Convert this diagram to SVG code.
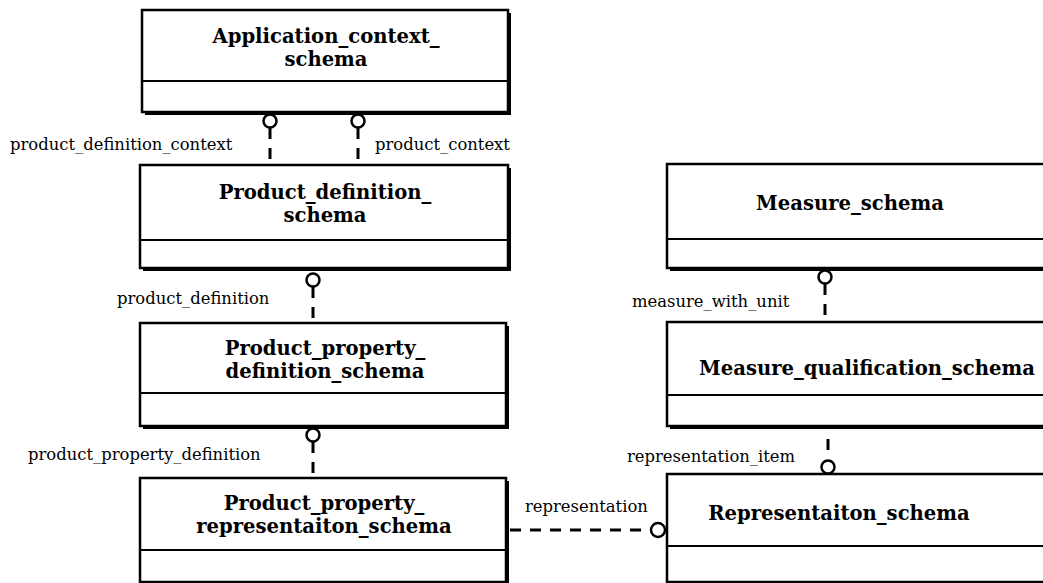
<svg xmlns="http://www.w3.org/2000/svg" width="1043" height="583" viewBox="0 0 1043 583">
  <style>
    .box { fill: #ffffff; stroke: #000000; stroke-width: 2.5; }
    .shadow { fill: #000000; }
    .div { stroke: #000000; stroke-width: 2; }
    .title { font-family: "DejaVu Serif", "Liberation Serif", serif; font-weight: bold; font-size: 19.6px; fill: #000000; text-anchor: middle; }
    .label { font-family: "DejaVu Serif", "Liberation Serif", serif; font-size: 16.4px; fill: #000000; }
    .link { stroke: #000000; stroke-width: 3; fill: none; stroke-dasharray: 11 9; }
    .end { fill: #ffffff; stroke: #000000; stroke-width: 2.5; }
  </style>
  <rect width="1043" height="583" fill="#ffffff"/>

  <!-- schema boxes -->
  <g id="application_context_schema">
    <rect class="shadow" x="145" y="13" width="366" height="102"/>
    <rect class="box" x="142" y="10" width="366" height="102"/>
    <line class="div" x1="142" y1="81" x2="508" y2="81"/>
    <text class="title" x="326" y="43">Application_context_</text>
    <text class="title" x="326" y="66">schema</text>
  </g>

  <g id="product_definition_schema">
    <rect class="shadow" x="143" y="168" width="368" height="103"/>
    <rect class="box" x="140" y="165" width="368" height="103"/>
    <line class="div" x1="140" y1="240" x2="508" y2="240"/>
    <text class="title" x="325" y="199">Product_definition_</text>
    <text class="title" x="325" y="222">schema</text>
  </g>

  <g id="product_property_definition_schema">
    <rect class="shadow" x="143" y="326" width="366" height="103"/>
    <rect class="box" x="140" y="323" width="366" height="103"/>
    <line class="div" x1="140" y1="393" x2="506" y2="393"/>
    <text class="title" x="325" y="355">Product_property_</text>
    <text class="title" x="325" y="378">definition_schema</text>
  </g>

  <g id="product_property_representaiton_schema">
    <rect class="shadow" x="143" y="481" width="366" height="104"/>
    <rect class="box" x="140" y="478" width="366" height="104"/>
    <line class="div" x1="140" y1="550" x2="506" y2="550"/>
    <text class="title" x="324" y="510">Product_property_</text>
    <text class="title" x="324" y="533">representaiton_schema</text>
  </g>

  <g id="measure_schema">
    <rect class="shadow" x="670" y="167" width="390" height="104"/>
    <rect class="box" x="667" y="164" width="390" height="104"/>
    <line class="div" x1="667" y1="239" x2="1043" y2="239"/>
    <text class="title" x="850" y="210">Measure_schema</text>
  </g>

  <g id="measure_qualification_schema">
    <rect class="shadow" x="670" y="325" width="390" height="104"/>
    <rect class="box" x="667" y="322" width="390" height="104"/>
    <line class="div" x1="667" y1="395" x2="1043" y2="395"/>
    <text class="title" x="867" y="375">Measure_qualification_schema</text>
  </g>

  <g id="representaiton_schema">
    <rect class="shadow" x="670" y="477" width="390" height="108"/>
    <rect class="box" x="667" y="474" width="390" height="108"/>
    <line class="div" x1="667" y1="546" x2="1043" y2="546"/>
    <text class="title" x="839" y="520">Representaiton_schema</text>
  </g>

  <!-- reference links: dashed line ending in an open circle at the referenced schema -->
  <g id="connectors">
    <line class="link" x1="270" y1="128" x2="270" y2="165"/>
    <circle class="end" cx="270" cy="121" r="6.5"/>

    <line class="link" x1="358" y1="128" x2="358" y2="165"/>
    <circle class="end" cx="358" cy="121" r="6.5"/>

    <line class="link" x1="313" y1="287" x2="313" y2="323"/>
    <circle class="end" cx="313" cy="280" r="6.5"/>

    <line class="link" x1="313" y1="442" x2="313" y2="478"/>
    <circle class="end" cx="313" cy="435" r="6.5"/>

    <line class="link" x1="825" y1="284" x2="825" y2="322"/>
    <circle class="end" cx="825" cy="277" r="6.5"/>

    <line class="link" x1="828" y1="439" x2="828" y2="451"/>
    <circle class="end" cx="828" cy="467" r="6.5"/>

    <line class="link" x1="510" y1="530" x2="651" y2="530"/>
    <circle class="end" cx="658" cy="530" r="7"/>
  </g>

  <!-- link role names -->
  <g id="labels">
    <text class="label" x="10" y="150">product_definition_context</text>
    <text class="label" x="375" y="150">product_context</text>
    <text class="label" x="117" y="304">product_definition</text>
    <text class="label" x="28" y="460">product_property_definition</text>
    <text class="label" x="632" y="307">measure_with_unit</text>
    <text class="label" x="627" y="462">representation_item</text>
    <text class="label" x="525" y="512">representation</text>
  </g>
</svg>
